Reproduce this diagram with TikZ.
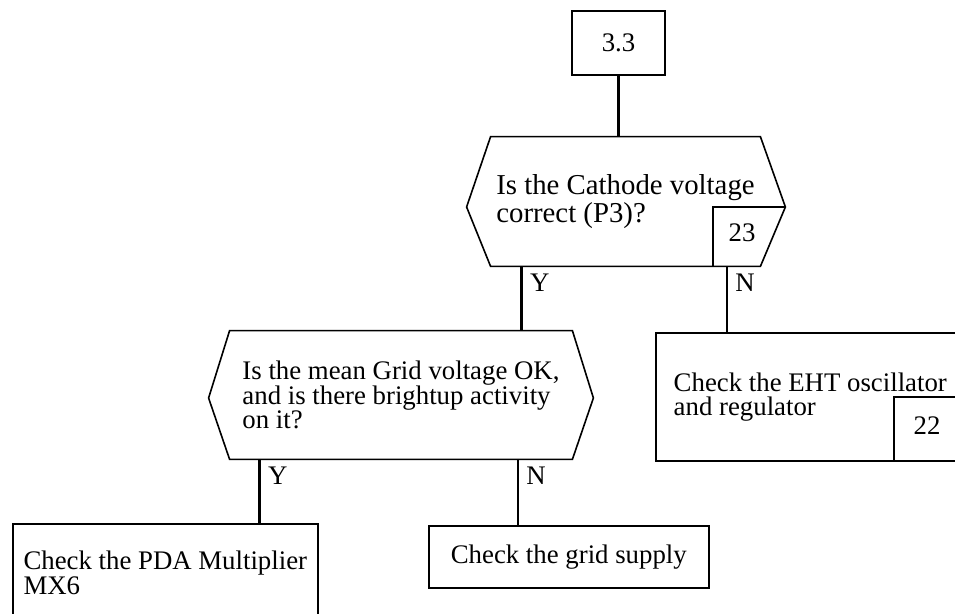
\documentclass[tikz,border=0pt]{standalone}
\usepackage{fontspec}
\setmainfont{Liberation Serif}
\usepackage{tikz}

\begin{document}
\begin{tikzpicture}[
    x=0.5pt, y=-0.5pt,
    txt/.style={font=\fontsize{13.4pt}{12.2pt}\selectfont},
    box/.style={rectangle, draw, line width=0.8pt, txt, align=left, inner sep=0pt},
    hexbody/.style={rectangle, txt, align=left, inner sep=0pt},
    hexline/.style={line width=0.8pt, line join=miter},
    stem/.style={line width=1.4pt},
    yn/.style={txt, inner sep=0pt, anchor=north west, xshift=4pt, yshift=-3.5pt}
]
\useasboundingbox (0,0) rectangle (955,614);

% entry point
\node[box, align=center, minimum width=46.5pt, minimum height=32pt] (sect) at (618.5,43) {3.3};

% first question
\node[hexbody, minimum width=134.5pt, minimum height=64.5pt,
      font=\fontsize{14.4pt}{12pt}\selectfont] (cathq) at (625.5,201.5)
    {Is the Cathode voltage\\correct (P3)?};
\coordinate (cathqL) at ([xshift=-12pt,yshift=-2.75pt]cathq.west);
\coordinate (cathqR) at ([xshift=12.5pt,yshift=-2.75pt]cathq.east);
\draw[hexline] (cathq.north west) -- (cathqL) -- (cathq.south west)
    -- (cathq.south east) -- (cathqR) -- (cathq.north east) -- cycle;
\coordinate (ref23) at (713,207);
\draw[hexline] (ref23 |- cathq.south) |- (cathqR);
\node[txt] (lbl23) at (742,233) {23};

% second question
\node[hexbody, minimum width=171pt, minimum height=64pt] (gridq) at (401,395)
    {Is the mean Grid voltage OK,\\and is there brightup activity\\on it?};
\coordinate (gridqL) at ([xshift=-10.5pt,yshift=-1.5pt]gridq.west);
\coordinate (gridqR) at ([xshift=10.5pt,yshift=-1.5pt]gridq.east);
\draw[hexline] (gridq.north west) -- (gridqL) -- (gridq.south west)
    -- (gridq.south east) -- (gridqR) -- (gridq.north east) -- cycle;

% actions
\node[box, anchor=north west, minimum width=154.5pt, minimum height=64pt] (eht) at (655,332)
    {Check the EHT oscillator\\and regulator};
\coordinate (ref22) at (894,0);
\draw[hexline] (ref22 |- eht.south) |- (eht.east);
\node[txt] (lbl22) at (927,426) {22};

\node[box, anchor=north west, minimum width=152.5pt, minimum height=49pt] (pda) at (12,523)
    {Check the PDA Multiplier\\MX6};
\node[box, anchor=north west, minimum width=140pt, minimum height=31pt] (supply) at (428,525)
    {Check the grid supply};

% connectors
\draw[stem] (sect.south) -- (sect.south |- cathq.north);

\coordinate (cathqY) at ([xshift=15.5pt]cathq.south west);
\draw[stem] (cathqY) -- (cathqY |- gridq.north);
\node[yn] (yA) at (cathqY) {Y};
\coordinate (cathqN) at ([xshift=36pt]eht.north west);
\draw[stem] (cathqN |- cathq.south) -- (cathqN);
\node[yn] (nA) at (cathqN |- cathq.south) {N};

\coordinate (gridqY) at ([xshift=15pt]gridq.south west);
\draw[stem] (gridqY) -- (gridqY |- pda.north);
\node[yn] (yB) at (gridqY) {Y};
\coordinate (gridqN) at ([xshift=45pt]supply.north west);
\draw[stem] (gridqN |- gridq.south) -- (gridqN);
\node[yn] (nB) at (gridqN |- gridq.south) {N};
\end{tikzpicture}
\end{document}
